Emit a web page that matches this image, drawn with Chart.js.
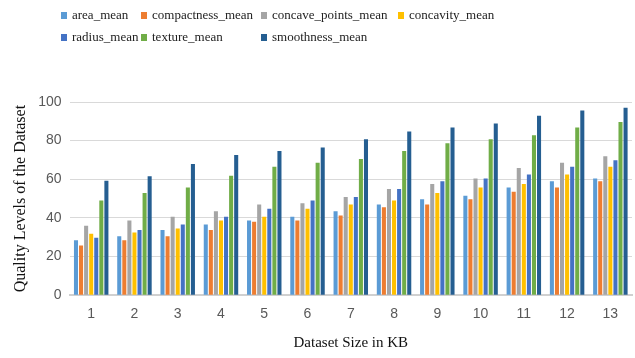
<!DOCTYPE html>
<html lang="en">
  <head>
    <meta charset="UTF-8" />
    <title>Quality Levels vs Dataset Size</title>
    <script src="https://cdn.jsdelivr.net/npm/chart.js"></script>
    <style>
      body { margin: 0; background: #fff; }
      #wrap { position: relative; width: 635px; height: 358px; }
      #legend {
        position: absolute; left: 61px; top: 7px;
        display: grid; grid-template-columns: 80px 120px 137px auto;
        row-gap: 6px; font: 13px "Liberation Serif", "DejaVu Serif", serif; color: #222;
      }
      #legend span.item { display: flex; align-items: center; height: 16px; white-space: nowrap; }
      #legend i { display: inline-block; width: 6px; height: 7px; margin-right: 5px; }
    </style>
  </head>
  <body>
    <div id="wrap">
      <div id="legend"></div>
      <canvas id="qualityChart" width="635" height="358"></canvas>
    </div>

    <script>
      const sizes = ["1", "2", "3", "4", "5", "6", "7", "8", "9", "10", "11", "12", "13"];

      const area_mean        = [28.4, 30.5, 33.8, 36.6, 38.7, 40.6, 43.4, 46.9, 49.6, 51.5, 55.7, 59.0, 60.4];
      const compactness_mean = [25.7, 28.4, 30.5, 33.8, 38.0, 38.7, 41.3, 45.5, 46.9, 49.6, 53.6, 55.7, 59.0];
      const concave_points   = [35.9, 38.7, 40.6, 43.4, 46.9, 47.6, 50.8, 55.0, 57.6, 60.4, 65.8, 68.5, 71.9];
      const concavity_mean   = [31.8, 32.4, 34.5, 38.7, 40.6, 44.8, 46.9, 49.0, 52.9, 55.7, 57.6, 62.5, 66.5];
      const radius_mean      = [29.8, 33.8, 36.6, 40.6, 44.8, 49.0, 50.8, 55.0, 59.0, 60.4, 62.5, 66.5, 69.8];
      const texture_mean     = [49.0, 52.9, 55.7, 61.8, 66.5, 68.5, 70.5, 74.6, 78.6, 80.7, 82.8, 86.8, 89.6];
      const smoothness_mean  = [59.2, 61.6, 67.9, 72.6, 74.6, 76.5, 80.7, 84.7, 86.8, 88.9, 92.9, 95.6, 97.0];

      const seriesNames = ["area_mean", "compactness_mean", "concave_points_mean", "concavity_mean",
                           "radius_mean", "texture_mean", "smoothness_mean"];
      const seriesData = [area_mean, compactness_mean, concave_points, concavity_mean,
                          radius_mean, texture_mean, smoothness_mean];
      const colors = ["#5B9BD5", "#ED7D31", "#A5A5A5", "#FFC000", "#4472C4", "#70AD47", "#255E91"];

      // legend laid out in columns like the original
      const legend = document.getElementById("legend");
      seriesNames.forEach((name, i) => {
        const item = document.createElement("span");
        item.className = "item";
        item.innerHTML = `<i style="background:${colors[i]}"></i>${name}`;
        legend.appendChild(item);
      });

      const serif = "'Liberation Serif', 'DejaVu Serif', serif";
      const sans = "'Liberation Sans', 'DejaVu Sans', sans-serif";

      new Chart(document.getElementById("qualityChart"), {
        type: "bar",
        data: {
          labels: sizes,
          datasets: seriesNames.map((name, i) => ({
            label: name,
            data: seriesData[i],
            backgroundColor: colors[i],
            categoryPercentage: 0.82,
            barPercentage: 0.8,
          })),
        },
        options: {
          responsive: false,
          animation: false,
          layout: { padding: { top: 102, right: 3, left: 11, bottom: 6 } },
          plugins: {
            legend: { display: false },
            tooltip: { enabled: false },
          },
          scales: {
            x: {
              grid: { display: false },
              border: { color: "#d0d0d0", width: 2 },
              ticks: { color: "#595959", font: { family: sans, size: 14 }, padding: 3 },
              title: {
                display: true,
                text: "Dataset Size in KB",
                color: "#111",
                font: { family: serif, size: 15 },
                padding: { top: 8, bottom: 0 },
              },
            },
            y: {
              min: 0,
              max: 100,
              ticks: { stepSize: 20, color: "#595959", font: { family: sans, size: 14 }, padding: 8 },
              grid: { color: "#d9d9d9", drawTicks: false },
              border: { display: false },
              title: {
                display: true,
                text: "Quality Levels of the Dataset",
                color: "#111",
                font: { family: serif, size: 16 },
                padding: { top: 0, bottom: 0 },
              },
            },
          },
        },
      });
    </script>
  </body>
</html>
